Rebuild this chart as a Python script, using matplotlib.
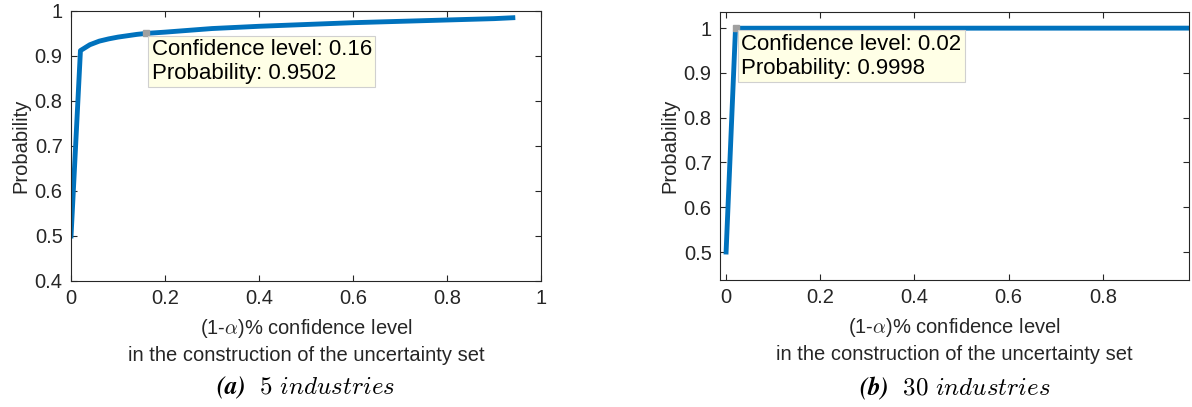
import matplotlib
matplotlib.use("Agg")
import matplotlib.pyplot as plt

plt.rcParams['font.family'] = ['Liberation Sans', 'DejaVu Sans']
plt.rcParams['mathtext.fontset'] = 'cm'

# data
conf_5 = [0, 0.02, 0.04, 0.06, 0.08, 0.10, 0.12, 0.14, 0.16, 0.20, 0.25,
          0.30, 0.40, 0.50, 0.60, 0.70, 0.80, 0.90, 0.94]
prob_5 = [0.50, 0.912, 0.925, 0.933, 0.938, 0.942, 0.945, 0.948, 0.9502,
          0.953, 0.957, 0.961, 0.966, 0.970, 0.974, 0.977, 0.980, 0.983, 0.985]

conf_30 = [0, 0.02, 0.98]
prob_30 = [0.50, 0.9998, 1.0]

tip_5 = (0.16, 0.9502)
tip_30 = (0.02, 0.9998)

captions = ['5 industries', '30 industries']
letters = ['a', 'b']

blue = '#0072BD'
dark = '#262626'

fig = plt.figure(figsize=(11.92, 4.07), dpi=100)
ax1 = fig.add_axes([0.0596, 0.3096, 0.3943, 0.6634])
ax2 = fig.add_axes([0.6040, 0.3120, 0.3935, 0.6585])


def style(ax, xlim, ylim, xt, yt):
    ax.set_xlim(*xlim)
    ax.set_ylim(*ylim)
    ax.set_xticks(xt)
    ax.set_yticks(yt)
    ax.set_xticklabels(['%g' % v for v in xt])
    ax.set_yticklabels(['%g' % v for v in yt])
    ax.tick_params(direction='in', top=True, right=True, length=4,
                   labelsize=14.5, colors=dark, pad=6)
    for s in ax.spines.values():
        s.set_color(dark)
        s.set_linewidth(0.8)
    ax.set_ylabel('Probability', fontsize=14.5, color=dark, labelpad=3)
    ax.set_xlabel('(1-$\\alpha$)% confidence level\n'
                  'in the construction of the uncertainty set',
                  fontsize=14.5, color=dark, linespacing=1.45, labelpad=6)


def datatip(ax, pt):
    ax.plot([pt[0]], [pt[1]], 's', ms=4, color='#a0a0a0', zorder=5)
    ax.annotate('Confidence level: %g\nProbability: %s' % (pt[0], ('%.4f' % pt[1])),
                xy=pt, xytext=(4, -4), textcoords='offset points',
                ha='left', va='top', fontsize=16, color='black',
                linespacing=1.2,
                bbox=dict(boxstyle='square,pad=0.15', fc='#ffffe6',
                          ec='#d0d0d0', lw=0.8), zorder=6)


ax1.plot(conf_5, prob_5, color=blue, lw=3.5, solid_joinstyle='round')
style(ax1, (0, 1), (0.4, 1), [0, 0.2, 0.4, 0.6, 0.8, 1],
      [0.4, 0.5, 0.6, 0.7, 0.8, 0.9, 1])
datatip(ax1, tip_5)

ax2.plot(conf_30, prob_30, color=blue, lw=3.5, solid_joinstyle='round')
style(ax2, (-0.013, 0.983), (0.4375, 1.036), [0, 0.2, 0.4, 0.6, 0.8],
      [0.5, 0.6, 0.7, 0.8, 0.9, 1])
datatip(ax2, tip_30)

for ax, let, cap in zip([ax1, ax2], letters, captions):
    pos = ax.get_position()
    cx = (pos.x0 + pos.x1) / 2
    fig.text(cx, 0.047,
             r'$\mathbfit{(%s)}\ \ \mathit{%s}$' % (let, cap.replace(' ', r'\ ')),
             ha='center', va='center', fontsize=18)

fig.savefig('out.png', dpi=100)
